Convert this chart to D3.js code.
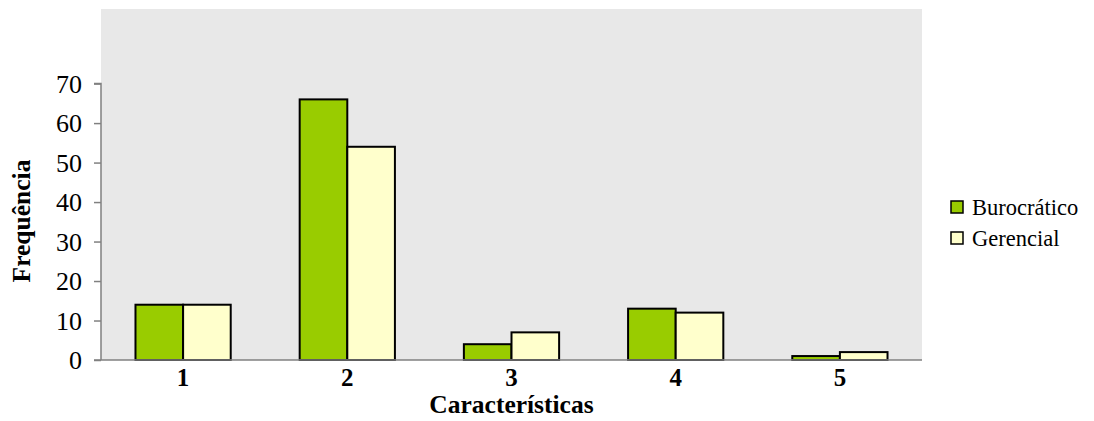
<!DOCTYPE html>
<html>
<head>
<meta charset="utf-8">
<script src="https://cdn.jsdelivr.net/npm/d3@7"></script>
<style>
  html, body { margin: 0; padding: 0; background: #ffffff; }
  svg { display: block; }
  svg text { font-family: 'Liberation Serif', 'Times New Roman', Times, serif !important; fill: #000; }
</style>
</head>
<body>
<svg id="chart" width="1094" height="421"></svg>
<script>
const categories = ["1", "2", "3", "4", "5"];
const seriesNames = ["Burocrático", "Gerencial"];
const burocratico = [14, 66, 4, 13, 1];
const gerencial = [14, 54, 7, 12, 2];
const yTicks = [0, 10, 20, 30, 40, 50, 60, 70];
const colors = ["#99cc00", "#ffffcc"];

const svg = d3.select("#chart");
const plot = { left: 101, right: 922, top: 9, bottom: 360 };

const x0 = d3.scaleBand().domain(categories)
  .range([plot.left, plot.right]).paddingInner(0.42).paddingOuter(0.21);
const x1 = d3.scaleBand().domain(seriesNames).range([0, x0.bandwidth()]).padding(0);
const y = d3.scaleLinear().domain([0, 70]).range([plot.bottom, 83.6]);

// plot background
svg.append("rect")
  .attr("x", plot.left).attr("y", plot.top)
  .attr("width", plot.right - plot.left).attr("height", plot.bottom - plot.top)
  .attr("fill", "#e8e8e8");

// bars
const rows = categories.map((c, i) => ({ cat: c, vals: [burocratico[i], gerencial[i]] }));
const g = svg.append("g");
rows.forEach(r => {
  r.vals.forEach((v, j) => {
    g.append("rect")
      .attr("x", x0(r.cat) + x1(seriesNames[j]))
      .attr("y", y(v))
      .attr("width", x1.bandwidth())
      .attr("height", y(0) - y(v))
      .attr("fill", colors[j])
      .attr("stroke", "#000")
      .attr("stroke-width", 2);
  });
});

// y axis
const yAxis = d3.axisLeft(y).tickValues(yTicks).tickSize(7).tickPadding(12).tickFormat(d3.format("d"));
const ya = svg.append("g").attr("transform", `translate(${plot.left},0)`).call(yAxis);
ya.attr("font-family", null);
ya.select(".domain").attr("stroke", "#808080").attr("stroke-width", 1.5).attr("d", `M-7,${y(70)}H0V${y(0)}`);
ya.selectAll(".tick line").attr("stroke", "#808080").attr("stroke-width", 1.5);
ya.selectAll(".tick text").attr("font-size", 26).attr("fill", "#000").attr("dy", "0.34em");

// x axis
const xAxis = d3.axisBottom(x0).tickSize(0).tickPadding(8);
const xa = svg.append("g").attr("transform", `translate(0,${plot.bottom})`).call(xAxis);
xa.attr("font-family", null);
xa.select(".domain").attr("stroke", "#808080").attr("stroke-width", 1.5).attr("d", `M${plot.left - 7},0H${plot.right}`);
xa.selectAll(".tick text").attr("font-size", 25).attr("font-weight", "bold").attr("fill", "#000").attr("dy", "0.7em");

// axis titles
svg.append("text")
  .attr("x", (plot.left + plot.right) / 2).attr("y", 413)
  .attr("text-anchor", "middle").attr("font-size", 25.5).attr("font-weight", "bold")
  .text("Características");
svg.append("text")
  .attr("transform", "translate(30,221) rotate(-90)")
  .attr("text-anchor", "middle").attr("font-size", 25.5).attr("font-weight", "bold")
  .text("Frequência");

// legend
const legend = svg.append("g").attr("transform", "translate(951,201)");
seriesNames.forEach((s, i) => {
  const row = legend.append("g").attr("transform", `translate(0,${i * 31})`);
  row.append("rect").attr("x", 0).attr("y", 0).attr("width", 12).attr("height", 12)
    .attr("fill", colors[i]).attr("stroke", "#000").attr("stroke-width", 1.5);
  row.append("text").attr("x", 21).attr("y", 14).attr("font-size", 22.5).text(s);
});
</script>
</body>
</html>
